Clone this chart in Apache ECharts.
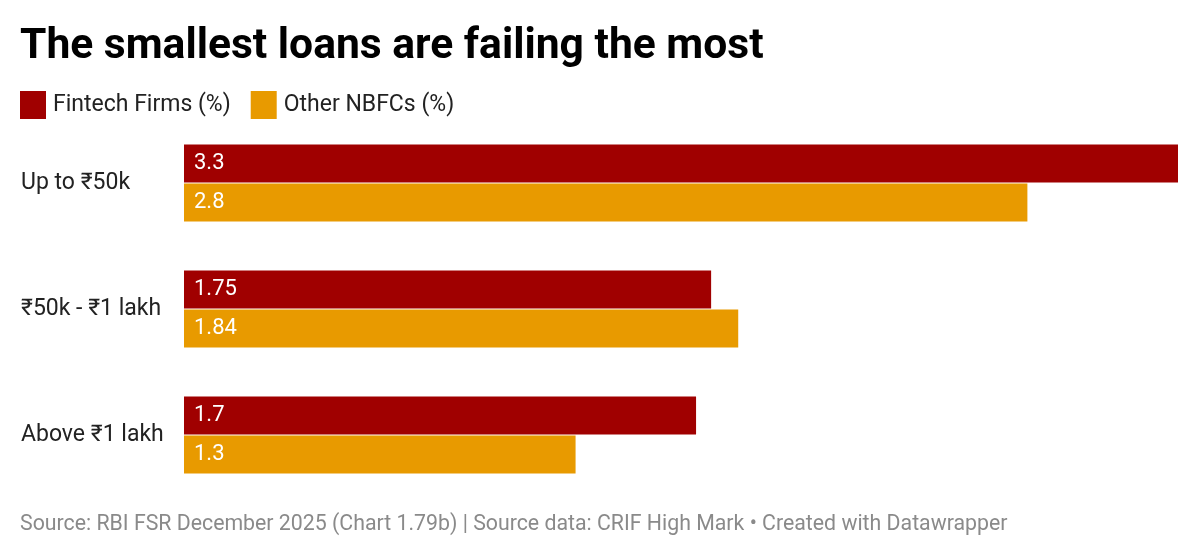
<!DOCTYPE html>
<html><head><meta charset="utf-8">
<script src="https://cdn.jsdelivr.net/npm/echarts@6/dist/echarts.min.js"></script>
<style>html,body{margin:0;padding:0;background:#fff}#c{width:1200px;height:557px}</style>
</head><body><div id="c"></div>
<script>
const categories = ['Up to ₹50k', '₹50k - ₹1 lakh', 'Above ₹1 lakh'];
const fintech = [3.3, 1.75, 1.7];
const otherNbfc = [2.8, 1.84, 1.3];
const seriesNames = ['Fintech Firms (%)', 'Other NBFCs (%)'];
const title = 'The smallest loans are failing the most';
const source = 'Source: RBI FSR December 2025 (Chart 1.79b) | Source data: CRIF High Mark • Created with Datawrapper';

const chart = echarts.init(document.getElementById('c'), null, {renderer: 'canvas'});
const font = 'Roboto';
const lbl = {show: true, position: 'insideLeft', distance: 10, color: '#fff', fontFamily: font, fontSize: 22, padding: [3, 0, 0, 0]};
chart.setOption({
  backgroundColor: '#fff',
  animation: false,
  textStyle: {fontFamily: font},
  title: {text: title, left: 15, top: 21, textStyle: {fontFamily: font, fontWeight: 'bold', fontSize: 42.6, color: '#000'}},
  legend: {left: 15, top: 86, itemWidth: 26, itemHeight: 28, itemGap: 20, icon: 'rect',
    textStyle: {fontFamily: font, fontSize: 23, color: '#222', padding: [0, 0, 0, 2]}},
  grid: {left: 184, right: 22, top: 120, bottom: 59},
  xAxis: {type: 'value', min: 0, max: 3.3, show: false},
  yAxis: {type: 'category', data: categories, inverse: true,
    axisLine: {show: false}, axisTick: {show: false},
    axisLabel: {align: 'left', margin: 163, fontFamily: font, fontSize: 23, color: '#222', padding: [3, 0, 0, 0]}},
  series: [
    {name: seriesNames[0], type: 'bar', data: fintech, itemStyle: {color: '#a00000'}, barCategoryGap: '39%', barGap: '3%', label: lbl},
    {name: seriesNames[1], type: 'bar', data: otherNbfc, itemStyle: {color: '#e89a00'}, label: lbl}
  ],
  graphic: [{type: 'text', left: 20, top: 514, style: {text: source, fontFamily: font, fontSize: 21.3, fill: '#8a8a8a'}}]
});
</script></body></html>
